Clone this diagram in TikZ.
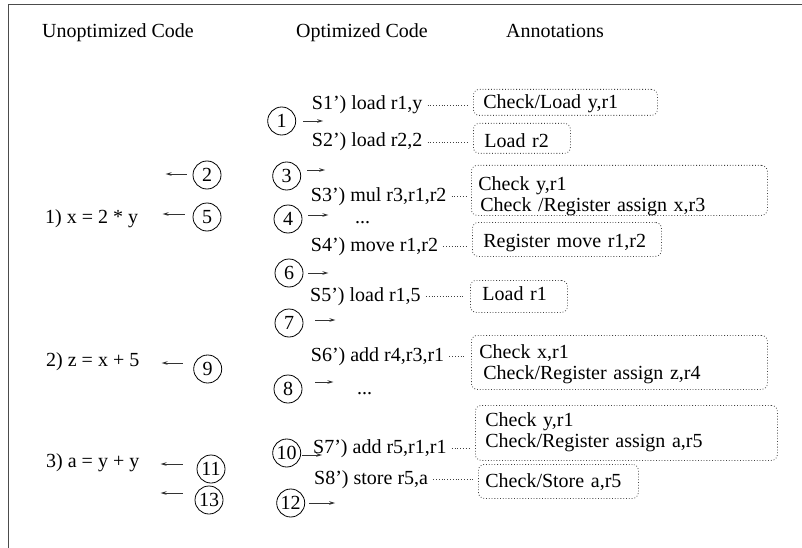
\documentclass[tikz,border=0pt]{standalone}
\usepackage{fontspec}
\setmainfont{Liberation Serif}
\usetikzlibrary{arrows.meta}
\begin{document}
\begin{tikzpicture}[x=1pt,y=-1pt,
  every node/.style={font=\fontsize{20}{21}\selectfont},
  txt/.style={anchor=base west,inner sep=0pt,text height=14pt,text depth=4pt},
  circ/.style={draw,circle,minimum size=28pt,inner sep=0.5pt,line width=0.8pt},
  arr/.style={draw=black!80,line width=0.8pt,-{Stealth[length=6pt,width=3.6pt]}},
  dotcon/.style={draw=black!75,line width=0.8pt,dash pattern=on 0.8pt off 2pt,shorten <=5pt,shorten >=5pt},
  annbox/.style={draw=black!75,line width=0.8pt,dash pattern=on 0.8pt off 2pt,rounded corners=6pt,
    anchor=north west,inner ysep=0pt,align=left,text depth=4.5pt}
]
\useasboundingbox (0,0) rectangle (802,548);
\draw[black!70,line width=1.6pt] (8.5,548) -- (8.5,4.5) -- (802,4.5);

% titles
\node[txt] (t1) at (42,38) {Unoptimized Code};
\node[txt] (t2) at (296,38) {Optimized Code};
\node[txt] (t3) at (506,38) {Annotations};

% unoptimized code
\node[txt] (u1) at (45,223) {1) x = 2 * y};
\node[txt] (u2) at (46,366) {2) z = x + 5};
\node[txt] (u3) at (46,467) {3) a = y + y};

% left circles
\node[circ] (c2) at (207,175) {2};
\node[circ] (c5) at (207,217) {5};
\node[circ] (c9) at (207.7,369) {9};
\node[circ] (c11) at (211,469) {11};
\node[circ] (c13) at (209,500) {13};
\draw[arr] ([shift={(-6,-1)}]c2.west) -- ++(-21,0);
\draw[arr] ([shift={(-8,-3)}]c5.west) -- ++(-22,0);
\draw[arr] ([shift={(-10.7,-6)}]c9.west) -- ++(-21,0);
\draw[arr] ([shift={(-14,-5)}]c11.west) -- ++(-22,0);
\draw[arr] ([shift={(-12,-7)}]c13.west) -- ++(-22,0);

% optimized code
\node[txt] (s1) at (311.7,110) {S1') load r1,y};
\node[txt] (s2) at (311.7,147) {S2') load r2,2};
\node[txt] (s3) at (310.7,201) {S3') mul r3,r1,r2};
\node[txt] (d3) at (355,223) {...};
\node[txt] (s4) at (310.7,251) {S4') move r1,r2};
\node[txt] (s5) at (310,301) {S5') load r1,5};
\node[txt] (s6) at (310.7,361) {S6') add r4,r3,r1};
\node[txt] (d6) at (357,394) {...};
\node[txt] (s7) at (313,453) {S7') add r5,r1,r1};
\node[txt] (s8) at (314,484) {S8') store r5,a};

% right circles
\node[circ] (c1) at (281.7,121) {1};
\node[circ] (c3) at (286.7,176) {3};
\node[circ] (c4) at (288,219) {4};
\node[circ] (c6) at (289,273) {6};
\node[circ] (c7) at (289,323) {7};
\node[circ] (c8) at (288,389) {8};
\node[circ] (c10) at (286.7,453) {10};
\node[circ] (c12) at (290.7,503) {12};
\draw[arr] ([shift={(7,0)}]c1.east) -- ++(20,0);
\draw[arr] ([shift={(6,-6)}]c3.east) -- ++(18,0);
\draw[arr] ([shift={(6,-4)}]c4.east) -- ++(20,0);
\draw[arr] ([shift={(5,0)}]c6.east) -- ++(20,0);
\draw[arr] ([shift={(12,-3)}]c7.east) -- ++(20,0);
\draw[arr] ([shift={(13,-7)}]c8.east) -- ++(18,0);
\draw[arr] ([shift={(1,2)}]c10.east) -- ++(20,0);
\draw[arr] ([shift={(4,0)}]c12.east) -- ++(26,0);

% annotation boxes
\node[annbox,inner xsep=10pt,text width=164pt,minimum height=26pt,text height=16.5pt] (b1) at (473,89) {Check/Load y,r1};
\node[annbox,inner xsep=11pt,text width=75pt,minimum height=30pt,text height=22.5pt] (b2) at (473,123) {Load r2};
\node[annbox,inner xsep=7pt,text width=282pt,minimum height=50pt,text height=24pt,text depth=24pt] (b3) at (471,165) {Check y,r1\\\hspace*{2pt}Check /Register assign x,r3};
\node[annbox,inner xsep=11pt,text width=167pt,minimum height=34pt,text height=20.5pt] (b4) at (472,222) {Register move r1,r2};
\node[annbox,inner xsep=12pt,text width=73pt,minimum height=32pt,text height=12.5pt] (b5) at (470,280) {Load r1};
\node[annbox,inner xsep=8pt,text width=280pt,minimum height=54pt,text height=17.5pt,text depth=25pt] (b6) at (471,335) {Check x,r1\\\hspace*{4pt}Check/Register assign z,r4};
\node[annbox,inner xsep=10pt,text width=282pt,minimum height=55pt,text height=12.5pt,text depth=25pt] (b7) at (475,405) {Check y,r1\\Check/Register assign a,r5};
\node[annbox,inner xsep=7pt,text width=146pt,minimum height=34pt,text height=16pt] (b8) at (478,464) {Check/Store a,r5};

% dotted connectors
\draw[dotcon] (s1.east) -- (s1.east -| b1.west);
\draw[dotcon] (s2.east) -- (s2.east -| b2.west);
\draw[dotcon] (s3.east) -- (s3.east -| b3.west);
\draw[dotcon] (s4.east) -- (s4.east -| b4.west);
\draw[dotcon] (s5.east) -- (s5.east -| b5.west);
\draw[dotcon] (s6.east) -- (s6.east -| b6.west);
\draw[dotcon] (s7.east) -- (s7.east -| b7.west);
\draw[dotcon] (s8.east) -- (s8.east -| b8.west);
\end{tikzpicture}
\end{document}
